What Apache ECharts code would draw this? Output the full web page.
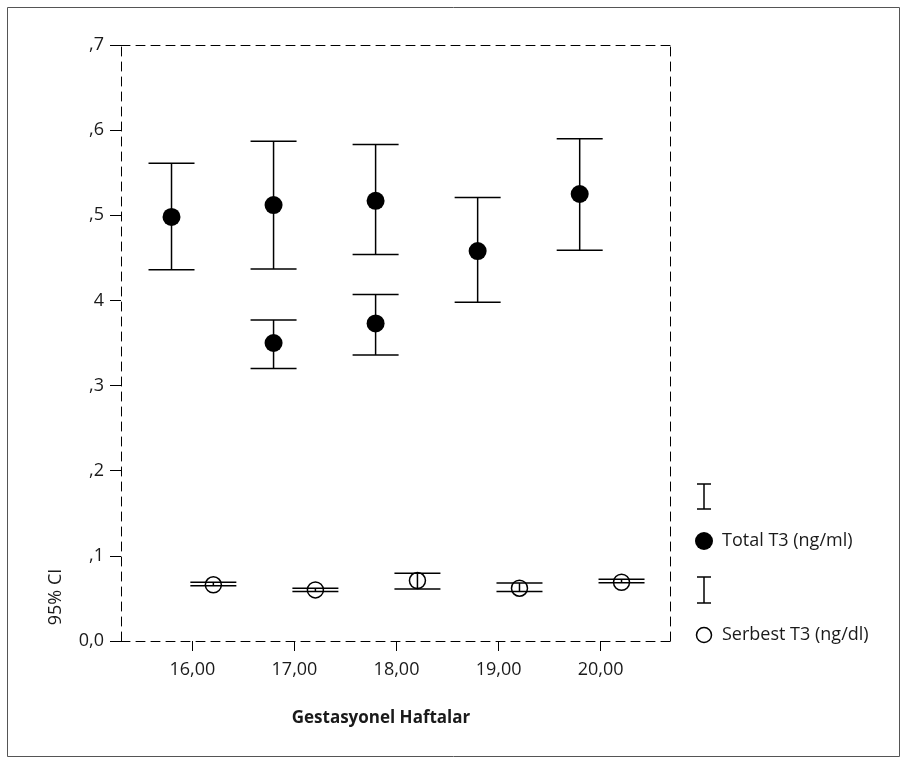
<!DOCTYPE html>
<html>
<head>
<meta charset="utf-8">
<script src="https://cdn.jsdelivr.net/npm/echarts@6/dist/echarts.min.js"></script>
<style>
html,body{margin:0;padding:0;background:#fff;}
#chart{width:907px;height:762px;}
</style>
</head>
<body>
<div id="chart"></div>
<script>
// ---- data ----
const weeks = [16, 17, 18, 19, 20];
const xTickValues = [16, 17, 18, 19, 20];
const yTickLabels = ['0,0', ',1', ',2', ',3', '4', ',5', ',6', ',7'];

const totalMean = [0.498, 0.512, 0.517, 0.458, 0.525];
const totalLow  = [0.436, 0.437, 0.454, 0.398, 0.459];
const totalHigh = [0.561, 0.587, 0.583, 0.521, 0.590];

const extraWeeks = [17, 18];
const extraMean = [0.350, 0.373];
const extraLow  = [0.320, 0.336];
const extraHigh = [0.377, 0.407];

const serbestMean = [0.066, 0.060, 0.071, 0.062, 0.069];
const serbestLow  = [0.065, 0.058, 0.061, 0.058, 0.0685];
const serbestHigh = [0.069, 0.062, 0.0795, 0.068, 0.0725];

const seriesNames = ['Total T3 (ng/ml)', 'Serbest T3 (ng/dl)'];
const xTitle = 'Gestasyonel Haftalar';
const yTitle = '95% CI';

// ---- layout / style ----
const OFF = 0.205;
const FONT = '"Open Sans", "Noto Sans", sans-serif';
const TXT = '#1a1a1a';
const FS = 18;

const totalBars = weeks.map((w, i) => [w - OFF, totalLow[i], totalHigh[i]])
  .concat(extraWeeks.map((w, i) => [w - OFF, extraLow[i], extraHigh[i]]));
const totalPts = weeks.map((w, i) => [w - OFF, totalMean[i]])
  .concat(extraWeeks.map((w, i) => [w - OFF, extraMean[i]]));
const serbestBars = weeks.map((w, i) => [w + OFF, serbestLow[i], serbestHigh[i]]);
const serbestPts = weeks.map((w, i) => [w + OFF, serbestMean[i]]);

function errRender(params, api) {
  const x = api.value(0), lo = api.value(1), hi = api.value(2);
  const a = api.coord([x, lo]), b = api.coord([x, hi]);
  const hw = 23;
  const st = { stroke: '#000', lineWidth: 1.5 };
  return {
    type: 'group',
    children: [
      { type: 'line', shape: { x1: a[0], y1: a[1], x2: b[0], y2: b[1] }, style: st },
      { type: 'line', shape: { x1: a[0] - hw, y1: a[1], x2: a[0] + hw, y2: a[1] }, style: st },
      { type: 'line', shape: { x1: b[0] - hw, y1: b[1], x2: b[0] + hw, y2: b[1] }, style: st }
    ]
  };
}

const dash = [9, 6];
const chart = echarts.init(document.getElementById('chart'), null, { renderer: 'canvas' });
chart.setOption({
  animation: false,
  backgroundColor: '#fff',
  grid: { left: 121, top: 45, width: 549, height: 596, containLabel: false },
  xAxis: [{
    type: 'value', min: 15.3, max: 20.68, position: 'bottom',
    axisLine: { show: true, onZero: false, lineStyle: { color: '#000', width: 1, type: dash } },
    axisTick: { show: true, customValues: xTickValues, length: 10, lineStyle: { color: '#000', width: 1 } },
    axisLabel: {
      show: true, customValues: xTickValues, margin: 20,
      fontFamily: FONT, fontSize: FS, color: TXT,
      formatter: v => v.toFixed(2).replace('.', ',')
    },
    splitLine: { show: false }
  }, {
    type: 'value', min: 15.3, max: 20.68, position: 'top',
    axisLine: { show: true, onZero: false, lineStyle: { color: '#000', width: 1, type: dash } },
    axisTick: { show: false }, axisLabel: { show: false }, splitLine: { show: false }
  }],
  yAxis: [{
    type: 'value', min: 0, max: 0.7, interval: 0.1, position: 'left',
    axisLine: { show: true, onZero: false, lineStyle: { color: '#000', width: 1, type: dash } },
    axisTick: { show: true, length: 11, lineStyle: { color: '#000', width: 1 } },
    axisLabel: {
      show: true, margin: 17, fontFamily: FONT, fontSize: FS, color: TXT,
      formatter: v => yTickLabels[Math.round(v * 10)]
    },
    splitLine: { show: false }
  }, {
    type: 'value', min: 0, max: 0.7, position: 'right',
    axisLine: { show: true, onZero: false, lineStyle: { color: '#000', width: 1, type: dash } },
    axisTick: { show: false }, axisLabel: { show: false }, splitLine: { show: false }
  }],
  series: [
    { type: 'custom', name: seriesNames[0] + ' CI', renderItem: errRender, data: totalBars, z: 2 },
    { type: 'custom', name: seriesNames[1] + ' CI', renderItem: errRender, data: serbestBars, z: 2 },
    { type: 'scatter', name: seriesNames[0], data: totalPts, symbol: 'circle', symbolSize: 18,
      itemStyle: { color: '#000', opacity: 1 }, z: 3 },
    { type: 'scatter', name: seriesNames[1], data: serbestPts, symbol: 'circle', symbolSize: 16,
      itemStyle: { color: 'rgba(0,0,0,0)', borderColor: '#000', borderWidth: 1.5, opacity: 1 }, z: 3 }
  ],
  graphic: [
    { type: 'rect', shape: { x: 7.5, y: 7.5, width: 892, height: 749 },
      style: { fill: 'none', stroke: '#555', lineWidth: 1 }, silent: true },
    { type: 'text', x: 381, y: 718,
      style: { text: xTitle, fontFamily: FONT, fontSize: 17, fontWeight: 'bold', fill: TXT,
        textAlign: 'center', textVerticalAlign: 'middle' } },
    { type: 'text', x: 56, y: 597, rotation: Math.PI / 2,
      style: { text: yTitle, fontFamily: FONT, fontSize: 18, fill: TXT,
        textAlign: 'center', textVerticalAlign: 'middle' } },
    // legend
    { type: 'group', children: [
      { type: 'line', shape: { x1: 704, y1: 484, x2: 704, y2: 509 }, style: { stroke: '#000', lineWidth: 1.5 } },
      { type: 'line', shape: { x1: 697, y1: 484, x2: 711, y2: 484 }, style: { stroke: '#000', lineWidth: 1.5 } },
      { type: 'line', shape: { x1: 697, y1: 509, x2: 711, y2: 509 }, style: { stroke: '#000', lineWidth: 1.5 } },
      { type: 'circle', shape: { cx: 704, cy: 541, r: 9 }, style: { fill: '#000' } },
      { type: 'text', x: 722, y: 541, style: { text: seriesNames[0], fontFamily: FONT, fontSize: FS, fill: TXT,
        textAlign: 'left', textVerticalAlign: 'middle' } },
      { type: 'line', shape: { x1: 704, y1: 577, x2: 704, y2: 603 }, style: { stroke: '#000', lineWidth: 1.5 } },
      { type: 'line', shape: { x1: 697, y1: 577, x2: 711, y2: 577 }, style: { stroke: '#000', lineWidth: 1.5 } },
      { type: 'line', shape: { x1: 697, y1: 603, x2: 711, y2: 603 }, style: { stroke: '#000', lineWidth: 1.5 } },
      { type: 'circle', shape: { cx: 704, cy: 635, r: 7.5 }, style: { fill: 'none', stroke: '#000', lineWidth: 1.5 } },
      { type: 'text', x: 722, y: 635, style: { text: seriesNames[1], fontFamily: FONT, fontSize: FS, fill: TXT,
        textAlign: 'left', textVerticalAlign: 'middle' } }
    ] }
  ]
});
</script>
</body>
</html>
